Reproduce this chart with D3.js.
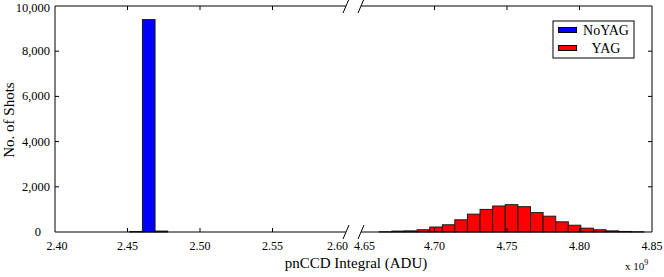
<!DOCTYPE html>
<html>
<head>
<meta charset="utf-8">
<script src="https://cdn.jsdelivr.net/npm/d3@7"></script>
<style>
body { margin: 0; background: #fff; }
svg text { font-family: "Liberation Serif", "DejaVu Serif", serif; fill: #000; }
.axisLine { stroke: #000; stroke-width: 1; fill: none; }
.bar { stroke: #1a1a1a; stroke-width: 1; }
</style>
</head>
<body>
<div id="chart"></div>
<script>
// counts are in shots, x values in units of 1e9 ADU
var yTicks = [0, 2000, 4000, 6000, 8000, 10000];
var leftTicks = [2.40, 2.45, 2.50, 2.55, 2.60];
var rightTicks = [4.65, 4.70, 4.75, 4.80, 4.85];
var binWidth = 0.0087;

var noYagEdges = [2.4516, 2.4603, 2.4690];
var noYagCounts = [20, 9400, 40];

var yagEdges = [4.6619, 4.6706, 4.6793, 4.6880, 4.6967, 4.7054, 4.7140, 4.7227, 4.7314, 4.7401,
                4.7488, 4.7575, 4.7662, 4.7749, 4.7836, 4.7922, 4.8009, 4.8096, 4.8183, 4.8270, 4.8357];
var yagCounts = [10, 40, 50, 100, 220, 320, 540, 790, 1000, 1150,
                 1210, 1120, 860, 700, 450, 300, 170, 100, 50, 25, 10];

var seriesNames = ["NoYAG", "YAG"];
var seriesColors = ["#0000ff", "#ff0000"];

/**
 * Constructor for the broken-axis histogram
 */
function BrokenHistogram(){
    var self = this;
    self.init();
}

BrokenHistogram.prototype.init = function(){
    var self = this;
    self.width = 664;
    self.height = 277;
    self.plot = {left: 55, right: 652, top: 6, bottom: 232, breakLeft: 345, breakRight: 362};

    self.svg = d3.select("#chart").append("svg")
        .attr("width", self.width)
        .attr("height", self.height)
        .attr("font-family", "Liberation Serif, serif");

    self.y = d3.scaleLinear().domain([0, 10000]).range([self.plot.bottom, self.plot.top]);
    self.xLeft = d3.scaleLinear().domain([2.40, 2.60]).range([self.plot.left, self.plot.breakLeft]);
    self.xRight = d3.scaleLinear().domain([4.65, 4.85]).range([self.plot.breakRight, self.plot.right]);
};

BrokenHistogram.prototype.drawBars = function(edges, counts, xscale, color){
    var self = this;
    var data = edges.map(function(e, i){ return {x0: e, x1: e + binWidth, count: counts[i]}; });

    self.svg.append("g").selectAll("rect")
        .data(data)
        .enter()
        .append("rect")
        .attr("class", "bar")
        .attr("x", function(d){ return xscale(d.x0); })
        .attr("width", function(d){ return xscale(d.x1) - xscale(d.x0); })
        .attr("y", function(d){ return self.y(d.count); })
        .attr("height", function(d){ return self.y(0) - self.y(d.count); })
        .attr("fill", color);
};

BrokenHistogram.prototype.drawAxes = function(){
    var self = this;
    var p = self.plot;
    var g = self.svg.append("g");

    // frame, with a gap at the axis break
    [p.top, p.bottom].forEach(function(yy){
        g.append("line").attr("class", "axisLine")
            .attr("x1", p.left).attr("x2", p.breakLeft + 1).attr("y1", yy).attr("y2", yy);
        g.append("line").attr("class", "axisLine")
            .attr("x1", p.breakRight - 1).attr("x2", p.right).attr("y1", yy).attr("y2", yy);
        // break slashes
        [p.breakLeft + 1, p.breakRight - 1].forEach(function(bx){
            g.append("line").attr("class", "axisLine")
                .attr("x1", bx + 3).attr("y1", yy - 7)
                .attr("x2", bx - 3).attr("y2", yy + 7);
        });
    });
    [p.left, p.right].forEach(function(xx){
        g.append("line").attr("class", "axisLine")
            .attr("x1", xx).attr("x2", xx).attr("y1", p.top).attr("y2", p.bottom);
    });

    // y ticks and labels
    yTicks.forEach(function(t){
        var yy = self.y(t);
        if (t > 0 && t < 10000){
            g.append("line").attr("class", "axisLine")
                .attr("x1", p.left).attr("x2", p.left + 4).attr("y1", yy).attr("y2", yy);
            g.append("line").attr("class", "axisLine")
                .attr("x1", p.right).attr("x2", p.right - 4).attr("y1", yy).attr("y2", yy);
        }
        g.append("text")
            .attr("x", t == 0 ? 41 : 50)
            .attr("y", Math.max(yy + 4, 12))
            .attr("text-anchor", "end")
            .style("font-size", "12.5px")
            .text(d3.format(",")(t));
    });

    // x ticks and labels
    var drawX = function(ticks, xscale){
        ticks.forEach(function(t, i){
            var xx = xscale(t);
            if (i > 0 && i < ticks.length - 1){
                g.append("line").attr("class", "axisLine")
                    .attr("x1", xx).attr("x2", xx).attr("y1", p.bottom).attr("y2", p.bottom - 4);
                g.append("line").attr("class", "axisLine")
                    .attr("x1", xx).attr("x2", xx).attr("y1", p.top).attr("y2", p.top + 4);
            }
            var anchor = "middle", dx = 0;
            if (t == 2.60){ anchor = "end"; dx = 3; }
            if (t == 4.65){ anchor = "start"; dx = -8; }
            if (t == 2.40){ dx = 2; }
            g.append("text")
                .attr("x", xx + dx)
                .attr("y", 250)
                .attr("text-anchor", anchor)
                .style("font-size", "12px")
                .text(d3.format(".2f")(t));
        });
    };
    drawX(leftTicks, self.xLeft);
    drawX(rightTicks, self.xRight);

    // titles
    g.append("text")
        .attr("x", 356).attr("y", 268)
        .attr("text-anchor", "middle")
        .style("font-size", "15px")
        .text("pnCCD Integral (ADU)");

    g.append("text")
        .attr("transform", "translate(14,120) rotate(-90)")
        .attr("text-anchor", "middle")
        .style("font-size", "15px")
        .text("No. of Shots");

    var exp = g.append("text")
        .attr("x", 625).attr("y", 270)
        .style("font-size", "11px");
    exp.append("tspan").text("x 10");
    exp.append("tspan").attr("dy", -5).style("font-size", "8px").text("9");
};

BrokenHistogram.prototype.drawLegend = function(){
    var self = this;
    var lg = self.svg.append("g").attr("transform", "translate(553,21)");
    lg.append("rect")
        .attr("width", 81).attr("height", 37)
        .attr("fill", "#fff").attr("stroke", "#000").attr("stroke-width", 1);

    var rows = lg.selectAll(".legendRow")
        .data(seriesNames)
        .enter()
        .append("g")
        .attr("class", "legendRow")
        .attr("transform", function(d, i){ return "translate(0," + (9 + i * 18) + ")"; });

    rows.append("rect")
        .attr("x", 5.5).attr("y", -2.5)
        .attr("width", 18).attr("height", 5)
        .attr("fill", function(d, i){ return seriesColors[i]; })
        .attr("stroke", "#000").attr("stroke-width", 1);

    rows.append("text")
        .attr("x", 53).attr("y", 5)
        .attr("text-anchor", "middle")
        .style("font-size", "14px")
        .text(function(d){ return d; });
};

var chart = new BrokenHistogram();
chart.drawBars(noYagEdges, noYagCounts, chart.xLeft, seriesColors[0]);
chart.drawBars(yagEdges, yagCounts, chart.xRight, seriesColors[1]);
chart.drawAxes();
chart.drawLegend();
</script>
</body>
</html>
